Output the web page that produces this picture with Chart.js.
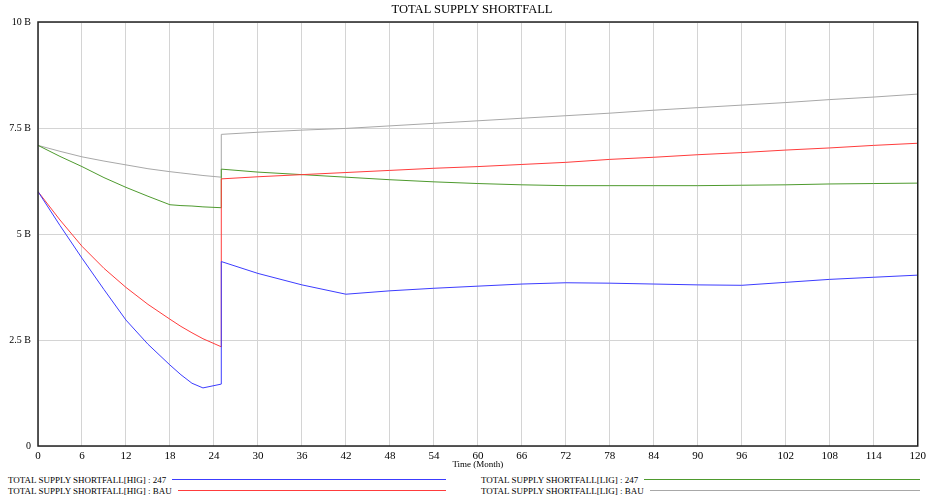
<!DOCTYPE html>
<html lang="en">
<head>
    <meta charset="UTF-8">
    <title>Total Supply Shortfall</title>
    <script src="https://cdn.jsdelivr.net/npm/chart.js"></script>
    <style>
        body {
            margin: 0;
            padding: 0;
            background: #fff;
            font-family: 'Liberation Serif', 'DejaVu Serif', serif;
        }

        #wrap {
            position: relative;
            width: 930px;
            height: 499px;
        }

        #box {
            position: absolute;
            left: 0;
            top: 0;
            width: 930px;
            height: 470px;
        }

        #title {
            position: absolute;
            left: 14px;
            right: 0;
            top: 2px;
            text-align: center;
            font-size: 12.5px;
            line-height: 14px;
            color: #000;
        }

        .legend {
            position: absolute;
            top: 474px;
            font-size: 9px;
            color: #000;
        }

        .row {
            display: flex;
            align-items: center;
            height: 11px;
            white-space: nowrap;
        }

        .row span.line {
            flex: 1;
            height: 1px;
            margin-left: 6px;
        }
    </style>
</head>
<body>
    <div id="wrap">
        <div id="box"><canvas id="chart"></canvas></div>
        <div id="title">TOTAL SUPPLY SHORTFALL</div>
        <div class="legend" id="legLeft" style="left:8px; width:438px;"></div>
        <div class="legend" id="legRight" style="left:481px; width:439px;"></div>
    </div>

    <script>
        // months (25 appears twice: the step change)
        const months = [0, 3, 6, 9, 12, 15, 18, 19.5, 21, 22.5, 25, 25, 30, 36, 42, 48, 54, 60, 66, 72, 78, 84, 90, 96, 102, 108, 114, 120];

        // values in billions
        const higRun247 = [6.00, 5.20, 4.43, 3.69, 2.97, 2.40, 1.91, 1.68, 1.48, 1.37, 1.46, 4.35, 4.07, 3.80, 3.58, 3.66, 3.72, 3.77, 3.82, 3.85, 3.84, 3.82, 3.80, 3.79, 3.86, 3.93, 3.98, 4.03];
        const higRunBau = [6.00, 5.33, 4.71, 4.19, 3.74, 3.34, 2.99, 2.82, 2.67, 2.53, 2.34, 6.30, 6.35, 6.40, 6.45, 6.50, 6.55, 6.59, 6.64, 6.69, 6.76, 6.81, 6.87, 6.92, 6.98, 7.03, 7.09, 7.14];
        const ligRun247 = [7.09, 6.83, 6.59, 6.33, 6.10, 5.89, 5.69, 5.67, 5.66, 5.64, 5.62, 6.53, 6.46, 6.40, 6.34, 6.28, 6.23, 6.19, 6.16, 6.14, 6.14, 6.14, 6.14, 6.15, 6.16, 6.18, 6.19, 6.20];
        const ligRunBau = [7.09, 6.95, 6.82, 6.72, 6.63, 6.54, 6.47, 6.44, 6.41, 6.38, 6.34, 7.35, 7.40, 7.45, 7.49, 7.55, 7.61, 7.67, 7.73, 7.79, 7.85, 7.92, 7.98, 8.04, 8.10, 8.17, 8.23, 8.30];

        const yTicks = [0, 2.5, 5, 7.5, 10];

        const series = [
            { label: 'TOTAL SUPPLY SHORTFALL[HIG] : 247', data: higRun247, color: '#3c3cff' },
            { label: 'TOTAL SUPPLY SHORTFALL[HIG] : BAU', data: higRunBau, color: '#ff3c3c' },
            { label: 'TOTAL SUPPLY SHORTFALL[LIG] : 247', data: ligRun247, color: '#4e9a2e' },
            { label: 'TOTAL SUPPLY SHORTFALL[LIG] : BAU', data: ligRunBau, color: '#a8a8a8' }
        ];

        function toPoints(vals) {
            return vals.map((v, i) => ({ x: months[i], y: v }));
        }

        // draws the dark frame around the plot area
        const frame = {
            id: 'frame',
            afterDraw(chart) {
                const a = chart.chartArea;
                const c = chart.ctx;
                c.save();
                c.strokeStyle = '#222';
                c.lineWidth = 1.5;
                c.strokeRect(a.left, a.top, a.right - a.left, a.bottom - a.top);
                c.restore();
            }
        };

        Chart.defaults.font.family = "'Liberation Serif', 'DejaVu Serif', serif";
        Chart.defaults.color = '#000';

        new Chart(document.getElementById('chart'), {
            type: 'line',
            data: {
                datasets: series.map(s => ({
                    label: s.label,
                    data: toPoints(s.data),
                    borderColor: s.color,
                    backgroundColor: s.color,
                    borderWidth: 1,
                    pointRadius: 0,
                    tension: 0,
                    fill: false
                }))
            },
            options: {
                responsive: true,
                maintainAspectRatio: false,
                animation: false,
                layout: { padding: { left: 0, right: 8, top: 22, bottom: 0 } },
                plugins: {
                    legend: { display: false },
                    tooltip: { enabled: false },
                    title: { display: false }
                },
                scales: {
                    x: {
                        type: 'linear',
                        min: 0,
                        max: 120,
                        ticks: { stepSize: 6, padding: 4, font: { size: 11 }, maxRotation: 0 },
                        grid: { color: '#d4d4d4', drawTicks: false },
                        border: { display: false },
                        title: { display: true, text: 'Time (Month)', font: { size: 9 }, padding: { top: 0, bottom: 0 } },
                        afterFit(scale) { scale.height = 24; }
                    },
                    y: {
                        min: 0,
                        max: 10,
                        afterBuildTicks(scale) {
                            scale.ticks = yTicks.map(v => ({ value: v }));
                        },
                        ticks: {
                            padding: 7,
                            font: { size: 10 },
                            callback: v => v === 0 ? '0' : v + ' B'
                        },
                        grid: { color: '#d4d4d4', drawTicks: false },
                        border: { display: false },
                        afterFit(scale) { scale.width = 38; }
                    }
                }
            },
            plugins: [frame]
        });

        // legend below the chart, two columns
        function fillLegend(el, items) {
            items.forEach(s => {
                const row = document.createElement('div');
                row.className = 'row';
                const t = document.createElement('span');
                t.textContent = s.label;
                const l = document.createElement('span');
                l.className = 'line';
                l.style.background = s.color;
                row.appendChild(t);
                row.appendChild(l);
                el.appendChild(row);
            });
        }
        fillLegend(document.getElementById('legLeft'), series.slice(0, 2));
        fillLegend(document.getElementById('legRight'), series.slice(2, 4));
    </script>
</body>
</html>
